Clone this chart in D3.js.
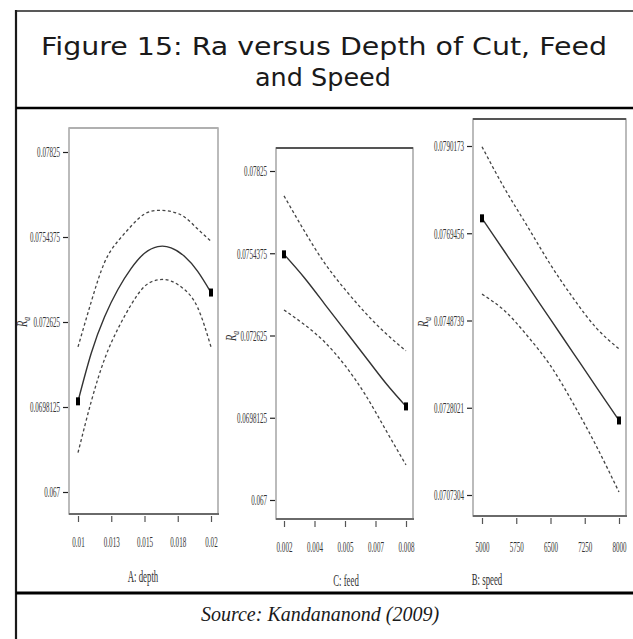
<!DOCTYPE html>
<html>
<head>
<meta charset="utf-8">
<script src="https://cdn.jsdelivr.net/npm/d3@7"></script>
<style>
  body { margin: 0; background: #fff; }
  svg { display: block; }
</style>
</head>
<body>
<svg id="fig" width="633" height="639"></svg>
<script>
// ---- A: depth of cut ----
const depthX     = [0.010, 0.011, 0.012, 0.013, 0.014, 0.015, 0.016, 0.017, 0.018, 0.019, 0.020];
const depthRa    = [0.0700, 0.0716, 0.0728, 0.0737, 0.0744, 0.0749, 0.07512, 0.07508, 0.0748, 0.0743, 0.0736];
const depthUpper = [0.0718, 0.0733, 0.0746, 0.0753, 0.0758, 0.0762, 0.07632, 0.07628, 0.0761, 0.0757, 0.0753];
const depthLower = [0.0683, 0.0700, 0.0714, 0.0724, 0.0732, 0.0738, 0.07402, 0.07398, 0.0737, 0.0731, 0.0718];
const depthTicks = [0.01, 0.0125, 0.015, 0.0175, 0.02];
const depthTickLabels = ["0.01", "0.013", "0.015", "0.018", "0.02"];

// ---- C: feed ----
const feedX     = [0.002, 0.003, 0.004, 0.005, 0.006, 0.007, 0.008];
const feedRa    = [0.0754, 0.0746, 0.0737, 0.0728, 0.0719, 0.0710, 0.0702];
const feedUpper = [0.0774, 0.0762, 0.0751, 0.0742, 0.0734, 0.0727, 0.0721];
const feedLower = [0.0735, 0.0730, 0.0724, 0.0716, 0.0706, 0.0694, 0.0682];
const feedTicks = [0.002, 0.0035, 0.005, 0.0065, 0.008];
const feedTickLabels = ["0.002", "0.004", "0.005", "0.007", "0.008"];

// ---- B: speed ----
const speedX     = [5000, 5500, 6000, 6500, 7000, 7500, 8000];
const speedRa    = [0.0773, 0.0765, 0.0757, 0.0749, 0.0741, 0.0733, 0.0725];
const speedUpper = [0.0790, 0.0780, 0.0771, 0.0762, 0.0754, 0.0747, 0.0742];
const speedLower = [0.0755, 0.0751, 0.0745, 0.0738, 0.0729, 0.0719, 0.0708];
const speedTicks = [5000, 5750, 6500, 7250, 8000];
const speedTickLabels = ["5000", "5750", "6500", "7250", "8000"];

// ---- shared Ra axes ----
const raTicksAC = [0.067, 0.0698125, 0.072625, 0.0754375, 0.07825];
const raTickLabelsAC = ["0.067", "0.0698125", "0.072625", "0.0754375", "0.07825"];
const raTicksB = [0.0707304, 0.0728021, 0.0748739, 0.0769456, 0.0790173];
const raTickLabelsB = ["0.0707304", "0.0728021", "0.0748739", "0.0769456", "0.0790173"];

const titleLines = ["Figure 15: Ra versus Depth of Cut, Feed", "and Speed"];
const sourceText = "Source: Kandananond (2009)";

const svg = d3.select("#fig");

// ---- box around the figure ----
svg.append("line").attr("x1", 16).attr("x2", 16).attr("y1", 10).attr("y2", 639)
  .attr("stroke", "#1a1a1a").attr("stroke-width", 2.2);
svg.append("line").attr("x1", 16).attr("x2", 633).attr("y1", 11).attr("y2", 11)
  .attr("stroke", "#222").attr("stroke-width", 1.5);
svg.append("line").attr("x1", 16).attr("x2", 633).attr("y1", 108).attr("y2", 108)
  .attr("stroke", "#000").attr("stroke-width", 2.5);
svg.append("line").attr("x1", 16).attr("x2", 633).attr("y1", 593).attr("y2", 593)
  .attr("stroke", "#000").attr("stroke-width", 3);

// ---- title ----
svg.append("text").attr("x", 324).attr("y", 55)
  .attr("text-anchor", "middle")
  .attr("font-family", "'DejaVu Sans', sans-serif").attr("font-size", 25)
  .attr("fill", "#1a1a1a")
  .attr("textLength", 566).attr("lengthAdjust", "spacingAndGlyphs")
  .text(titleLines[0]);
svg.append("text").attr("x", 323).attr("y", 86)
  .attr("text-anchor", "middle")
  .attr("font-family", "'DejaVu Sans', sans-serif").attr("font-size", 25)
  .attr("fill", "#1a1a1a")
  .attr("textLength", 136).attr("lengthAdjust", "spacingAndGlyphs")
  .text(titleLines[1]);

// ---- source line ----
svg.append("text").attr("x", 320).attr("y", 621)
  .attr("text-anchor", "middle")
  .attr("font-family", "'Liberation Serif', serif").attr("font-style", "italic")
  .attr("font-size", 20).attr("fill", "#1a1a1a")
  .text(sourceText);

const SQ = 0.47; // horizontal squeeze of the narrow axis lettering

function panel(cfg) {
  const g = svg.append("g");
  const f = cfg.frame;
  const x = d3.scaleLinear().domain(cfg.xDomain).range(cfg.xRange);
  const y = d3.scaleLinear().domain(cfg.yDomain).range(cfg.yRange);

  // plot frame
  g.append("rect")
    .attr("x", f.x0).attr("y", f.y0)
    .attr("width", f.x1 - f.x0).attr("height", f.y1 - f.y0)
    .attr("fill", "none").attr("stroke", "#a5a5a5").attr("stroke-width", 1.5);
  g.append("line").attr("x1", f.x0).attr("x2", f.x1).attr("y1", f.y0).attr("y2", f.y0)
    .attr("stroke", cfg.topColor).attr("stroke-width", 2);
  g.append("line").attr("x1", f.x0).attr("x2", f.x1 + 1).attr("y1", f.y1).attr("y2", f.y1)
    .attr("stroke", "#6a6a6a").attr("stroke-width", 2);

  // left axis
  const ya = g.append("g")
    .attr("transform", `translate(${f.x0 - 1},0)`)
    .call(d3.axisLeft(y).tickValues(cfg.yTicks)
      .tickFormat((d, i) => cfg.yLabels[i]).tickSize(5).tickPadding(3));
  ya.select(".domain").remove();
  ya.selectAll(".tick line").attr("stroke", "#222").attr("stroke-width", 1.2);
  ya.selectAll(".tick text")
    .attr("font-family", "'Liberation Serif', serif").attr("font-size", 15)
    .attr("fill", "#333")
    .attr("x", -8 / SQ)
    .attr("transform", `scale(${SQ},1)`);

  // bottom axis
  const xa = g.append("g")
    .attr("transform", `translate(0,${f.y1 + 2})`)
    .call(d3.axisBottom(x).tickValues(cfg.xTicks)
      .tickFormat((d, i) => cfg.xLabels[i]).tickSize(6).tickPadding(cfg.xPad));
  xa.select(".domain").remove();
  xa.selectAll(".tick line").attr("stroke", "#555").attr("stroke-width", 1.2);
  xa.selectAll(".tick text")
    .attr("font-family", "'Liberation Serif', serif").attr("font-size", 15)
    .attr("fill", "#333")
    .attr("transform", `scale(${SQ},1)`);

  // axis titles
  g.append("text")
    .attr("transform", `translate(${cfg.xTitle[0]},${cfg.xTitle[1]}) scale(0.55,1)`)
    .attr("text-anchor", "middle")
    .attr("font-family", "'Liberation Serif', serif").attr("font-size", 16)
    .attr("fill", "#333")
    .text(cfg.xName);

  const ra = g.append("text")
    .attr("transform", `translate(${cfg.yTitle[0]},${cfg.yTitle[1]}) rotate(-90) scale(0.75,1)`)
    .attr("text-anchor", "middle")
    .attr("font-family", "'Liberation Serif', serif").attr("font-style", "italic")
    .attr("font-size", 14).attr("fill", "#333");
  ra.append("tspan").text("R");
  ra.append("tspan").attr("font-size", 10).attr("dy", 3).text("a");

  // fitted curve and confidence bands
  const line = d3.line().x(d => x(d[0])).y(d => y(d[1])).curve(d3.curveNatural);
  [cfg.upper, cfg.lower].forEach(vals => {
    g.append("path").datum(d3.zip(cfg.xs, vals))
      .attr("d", line).attr("fill", "none")
      .attr("stroke", "#444").attr("stroke-width", 1.3)
      .attr("stroke-dasharray", "3,2.5");
  });
  g.append("path").datum(d3.zip(cfg.xs, cfg.fit))
    .attr("d", line).attr("fill", "none")
    .attr("stroke", "#333").attr("stroke-width", 1.4);

  // end-point markers on the fitted curve
  const ends = [0, cfg.xs.length - 1];
  g.selectAll("rect.pt").data(ends).join("rect").attr("class", "pt")
    .attr("x", i => x(cfg.xs[i]) - 2).attr("y", i => y(cfg.fit[i]) - 4)
    .attr("width", 4).attr("height", 8).attr("fill", "#000");
}

panel({
  frame: { x0: 69, x1: 218, y0: 128, y1: 514 },
  xDomain: [0.01, 0.02], xRange: [78, 211],
  yDomain: [0.067, 0.07825], yRange: [492, 152],
  xTicks: depthTicks, xLabels: depthTickLabels, xPad: 14,
  yTicks: raTicksAC, yLabels: raTickLabelsAC,
  xs: depthX, fit: depthRa, upper: depthUpper, lower: depthLower,
  xName: "A: depth", xTitle: [143, 582], yTitle: [27, 322],
  topColor: "#b0b0b0"
});

panel({
  frame: { x0: 276, x1: 413, y0: 148, y1: 519 },
  xDomain: [0.002, 0.008], xRange: [284, 406],
  yDomain: [0.067, 0.07825], yRange: [500, 171],
  xTicks: feedTicks, xLabels: feedTickLabels, xPad: 14,
  yTicks: raTicksAC, yLabels: raTickLabelsAC,
  xs: feedX, fit: feedRa, upper: feedUpper, lower: feedLower,
  xName: "C: feed", xTitle: [346, 586], yTitle: [236, 336],
  topColor: "#555"
});

panel({
  frame: { x0: 473, x1: 626, y0: 119, y1: 516 },
  xDomain: [5000, 8000], xRange: [482, 619],
  yDomain: [0.0707304, 0.0790173], yRange: [495, 146],
  xTicks: speedTicks, xLabels: speedTickLabels, xPad: 17,
  yTicks: raTicksB, yLabels: raTickLabelsB,
  xs: speedX, fit: speedRa, upper: speedUpper, lower: speedLower,
  xName: "B: speed", xTitle: [487, 585], yTitle: [428, 322],
  topColor: "#555"
});
</script>
</body>
</html>
